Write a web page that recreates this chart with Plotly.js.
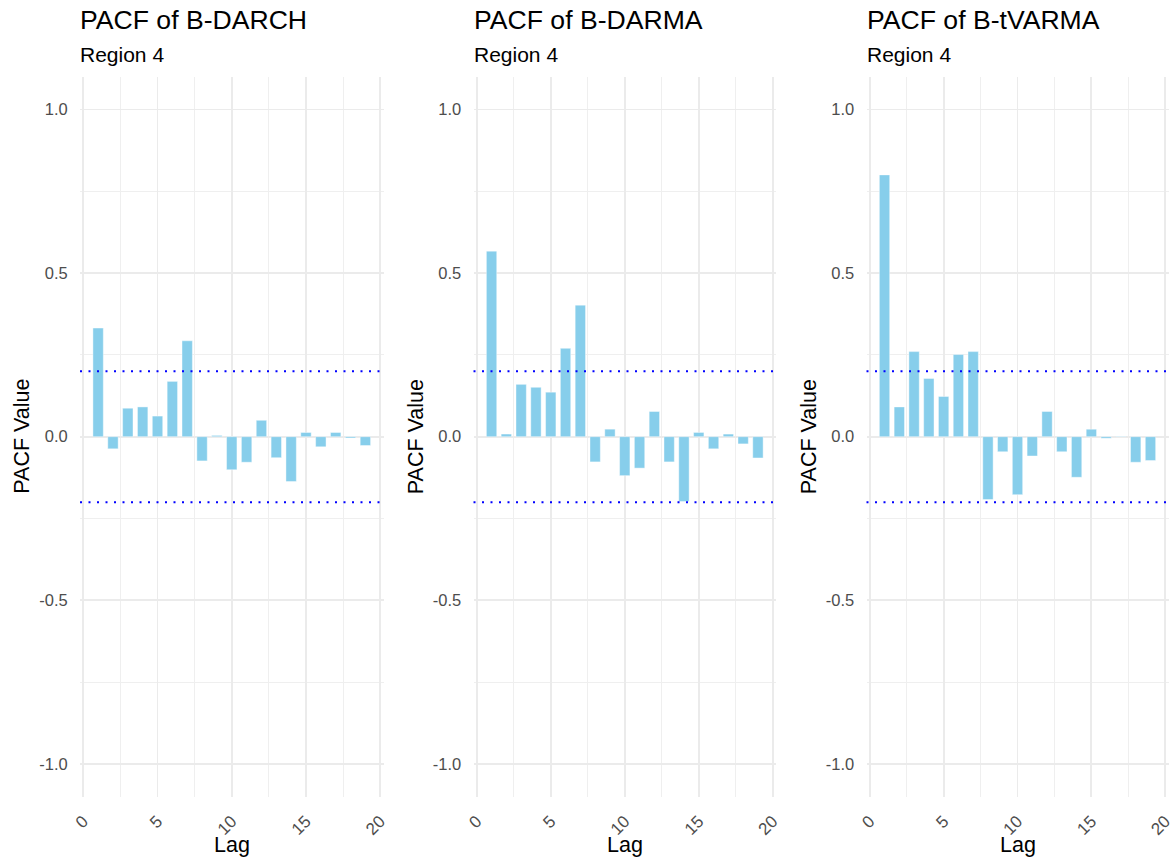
<!DOCTYPE html>
<html>
<head>
<meta charset="utf-8">
<script src="https://cdn.plot.ly/plotly-3.0.1.min.js"></script>
<style>
  html, body { margin: 0; padding: 0; background: #ffffff; }
  #chart { width: 1176px; height: 861px; }
</style>
</head>
<body>
<div id="chart"></div>
<script>
// Partial autocorrelation at lags 1..19 for three models, Region 4
const lags = [1, 2, 3, 4, 5, 6, 7, 8, 9, 10, 11, 12, 13, 14, 15, 16, 17, 18, 19];

const pacfDARCH = [0.332, -0.037, 0.087, 0.091, 0.063, 0.169, 0.293, -0.074, 0.004, -0.101,
                   -0.078, 0.050, -0.064, -0.137, 0.013, -0.031, 0.013, -0.004, -0.027];
const pacfDARMA = [0.567, 0.008, 0.160, 0.151, 0.136, 0.270, 0.402, -0.077, 0.023, -0.119,
                   -0.096, 0.077, -0.077, -0.198, 0.013, -0.037, 0.008, -0.022, -0.065];
const pacfTVARMA = [0.800, 0.091, 0.260, 0.178, 0.123, 0.251, 0.260, -0.192, -0.046, -0.177,
                    -0.059, 0.077, -0.046, -0.124, 0.023, -0.005, 0.001, -0.078, -0.073];

const modelNames = ["B-DARCH", "B-DARMA", "B-tVARMA"];
const subtitle = "Region 4";
const confBound = 0.2;   // significance band, +/- value

const xTicks = [0, 5, 10, 15, 20];
const yTicks = [-1.0, -0.5, 0.0, 0.5, 1.0];
const yTickText = ["-1.0", "-0.5", "0.0", "0.5", "1.0"];

const series = [pacfDARCH, pacfDARMA, pacfTVARMA];

// panel geometry (paper fractions)
const W = 1176, H = 861;
const xDomains = [[80 / W, 383.5 / W], [473.5 / W, 776 / W], [866.5 / W, 1168.5 / W]];
const yDomain = [1 - 796.7 / H, 1 - 76.7 / H];
const py = px => 1 - px / H;

const FONT = "Liberation Sans, Arial, sans-serif";
const GRID = "#ebebeb";
const GRID_MINOR = "#efefef";

const traces = series.map((vals, i) => ({
  type: "bar",
  x: lags,
  y: vals,
  width: 0.7,
  xaxis: i === 0 ? "x" : "x" + (i + 1),
  yaxis: i === 0 ? "y" : "y" + (i + 1),
  marker: { color: "#87CEEB", line: { color: "rgba(255,255,255,0.7)", width: 0.6 } },
  hoverinfo: "x+y",
  showlegend: false
}));

const layout = {
  width: W, height: H,
  margin: { l: 0, r: 0, t: 0, b: 0 },
  paper_bgcolor: "#ffffff",
  plot_bgcolor: "#ffffff",
  font: { family: FONT, color: "#000000" },
  bargap: 0,
  shapes: [],
  annotations: []
};

series.forEach((_, i) => {
  const sfx = i === 0 ? "" : String(i + 1);
  layout["xaxis" + sfx] = {
    domain: xDomains[i],
    anchor: "y" + sfx,
    range: [-0.22, 20.22],
    tickmode: "array",
    tickvals: xTicks,
    ticktext: xTicks.map(String),
    tickangle: -45,
    ticks: "outside", ticklen: 7, tickcolor: "rgba(0,0,0,0)",
    tickfont: { family: FONT, size: 17, color: "#4d4d4d" },
    showgrid: true, gridcolor: GRID, gridwidth: 1.8,
    minor: { tickvals: [2.5, 7.5, 12.5, 17.5], showgrid: true, gridcolor: GRID_MINOR, gridwidth: 1.2, ticks: "" },
    zeroline: false, showline: false,
    fixedrange: true
  };
  layout["yaxis" + sfx] = {
    domain: yDomain,
    anchor: "x" + sfx,
    range: [-1.1, 1.1],
    tickmode: "array",
    tickvals: yTicks,
    ticktext: yTickText,
    ticks: "outside", ticklen: 8, tickcolor: "rgba(0,0,0,0)",
    tickfont: { family: FONT, size: 16.5, color: "#4d4d4d" },
    showgrid: true, gridcolor: GRID, gridwidth: 1.8,
    minor: { tickvals: [-0.75, -0.25, 0.25, 0.75], showgrid: true, gridcolor: GRID_MINOR, gridwidth: 1.2, ticks: "" },
    zeroline: false, showline: false,
    fixedrange: true
  };

  // significance band lines
  [confBound, -confBound].forEach(v => {
    layout.shapes.push({
      type: "line", xref: "x" + sfx + " domain", yref: "y" + sfx,
      x0: 0, x1: 1, y0: v, y1: v,
      line: { color: "#0000ff", width: 2, dash: "2px,6.5px" },
      layer: "above"
    });
  });

  const left = xDomains[i][0];
  const mid = (xDomains[i][0] + xDomains[i][1]) / 2;

  layout.annotations.push(
    { text: "PACF of " + modelNames[i], xref: "paper", yref: "paper",
      x: left - 2 / W, y: py(20), xanchor: "left", yanchor: "middle", showarrow: false,
      font: { family: FONT, size: 26.6, color: "#000000" } },
    { text: subtitle, xref: "paper", yref: "paper",
      x: left - 2 / W, y: py(54.5), xanchor: "left", yanchor: "middle", showarrow: false,
      font: { family: FONT, size: 21, color: "#000000" } },
    { text: "Lag", xref: "paper", yref: "paper",
      x: mid, y: py(845), xanchor: "center", yanchor: "middle", showarrow: false,
      font: { family: FONT, size: 21.5, color: "#000000" } },
    { text: "PACF Value", xref: "paper", yref: "paper", textangle: -90,
      x: (left * W - 58) / W, y: (yDomain[0] + yDomain[1]) / 2, xanchor: "center", yanchor: "middle",
      showarrow: false,
      font: { family: FONT, size: 21.5, color: "#000000" } }
  );
});

Plotly.newPlot("chart", traces, layout, { displayModeBar: false, staticPlot: true });
</script>
</body>
</html>
